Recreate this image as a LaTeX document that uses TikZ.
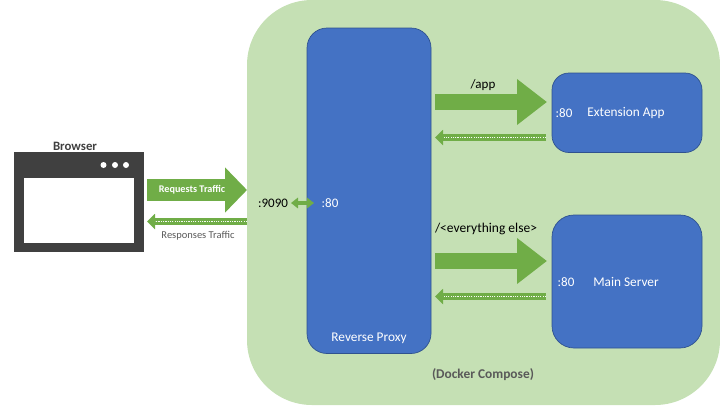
\documentclass[tikz,border=0pt]{standalone}
\usepackage{fontspec}
\setmainfont{Carlito}
\usetikzlibrary{arrows.meta}
\definecolor{panelgreen}{HTML}{C5E0B4}
\definecolor{boxblue}{HTML}{4472C4}
\definecolor{boxedge}{HTML}{2F528F}
\definecolor{arrowgreen}{HTML}{70AD47}
\definecolor{browserdark}{HTML}{404040}
\definecolor{labelgray}{HTML}{595959}
\tikzset{
  panelbox/.style={fill=panelgreen,draw=none,rounded corners=65pt,minimum width=473pt,minimum height=405pt,inner sep=0pt},
  bluebox/.style={fill=boxblue,draw=boxedge,line width=0.7pt,inner sep=0pt},
  bigarrow/.style={arrowgreen,line width=#1},
  reqtip/.style={-{Triangle[length=22pt,width=44pt]}},
  apptip/.style={-{Triangle[length=30pt,width=44pt]}},
  backarrow/.style={arrowgreen,line width=7pt,-{Triangle[length=8pt,width=15pt]}},
  dotrow/.style={draw=white!85!panelgreen,line width=1.2pt,dash pattern=on 1.2pt off 1.1pt},
  txt/.style={inner sep=0pt,font=\fontsize{#1}{#1}\selectfont},
  txt/.default=13.3,
  wintext/.style={text=white},
  dot/.style={circle,fill=white,minimum size=6pt,inner sep=0pt}
}
\newcommand{\backconn}[2]{%
  \draw[backarrow] (#1) -- (#2);
  \draw[dotrow,yshift=1.4pt] (#1) -- ([xshift=8pt]#2);
  \draw[dotrow,yshift=-1.4pt] (#1) -- ([xshift=8pt]#2);
}
\begin{document}
\begin{tikzpicture}[x=1pt,y=-1pt]
\useasboundingbox (0,0) rectangle (720,405);
\node[panelbox] (panel) at (483.5,202.5) {};
\node[bluebox,rounded corners=20pt,minimum width=124pt,minimum height=325.5pt] (proxy) at (369,190.75) {};
\node[bluebox,rounded corners=17pt,minimum width=150pt,minimum height=79.5pt] (ext) at (627,112.75) {};
\node[bluebox,rounded corners=22pt,minimum width=150pt,minimum height=133pt] (main) at (627,281.5) {};
% browser
\node[fill=browserdark,minimum width=130pt,minimum height=100pt,inner sep=0pt] (browser) at (79,202) {};
\node[fill=white,minimum width=110.5pt,minimum height=65pt,inner sep=0pt] (screen) at (79,210.5) {};
\node[dot] (d1) at (103.5,165) {};
\node[dot] (d2) at (115,165) {};
\node[dot] (d3) at (126,165) {};
\node[inner sep=0pt,text=browserdark,font=\fontsize{12.8}{12.8}\selectfont\bfseries] (blabel) at (75,146) {Browser};
% connector ends
\coordinate (reqS) at (147,190);
\coordinate (reqE) at (247,190);
\coordinate (resS) at (247,221.5);
\coordinate (resE) at (147,221.5);
\coordinate (portA) at (291,203);
\coordinate (portB) at (314,203);
\coordinate (appS) at (435,102);
\coordinate (appE) at (547,102);
\coordinate (appbS) at (546,137.5);
\coordinate (appbE) at (435,137.5);
\coordinate (elseS) at (435,261);
\coordinate (elseE) at (547,261);
\coordinate (elsebS) at (546,296.5);
\coordinate (elsebE) at (435,296.5);
% connectors
\draw[bigarrow=22pt,reqtip] (reqS) -- (reqE);
\backconn{resS}{resE}
\draw[arrowgreen,line width=3.5pt,{Triangle[length=7pt,width=10.5pt]}-{Triangle[length=7pt,width=10.5pt]}] (portA) -- (portB);
\draw[bigarrow=16pt,apptip] (appS) -- (appE);
\backconn{appbS}{appbE}
\draw[bigarrow=16pt,apptip] (elseS) -- (elseE);
\backconn{elsebS}{elsebE}
% labels
\node[inner sep=0pt,text=white,font=\fontsize{10.2}{10.2}\selectfont\bfseries] (reqL) at (192,190) {Requests Traffic};
\node[txt=10.5,text=labelgray] (resL) at (198,236) {Responses Traffic};
\node[txt=13] (p9090) at (273,203) {:9090};
\node[wintext,txt=13] (p80) at (330,203) {:80};
\node[txt=13] (appL) at (483,85) {/app};
\node[txt=13.5] (elseL) at (486,229) {/<everything else>};
\node[wintext,txt=13] (extP) at (564,113) {:80};
\node[wintext,txt] (extL) at (626,113) {Extension App};
\node[wintext,txt=13] (mainP) at (566,282) {:80};
\node[wintext,txt] (mainL) at (626,282) {Main Server};
\node[wintext,txt] (proxyL) at (369,338) {Reverse Proxy};
\node[inner sep=0pt,text=labelgray,font=\fontsize{13.4}{13.4}\selectfont\bfseries] (dockerL) at (483,375) {(Docker Compose)};
\end{tikzpicture}
\end{document}
